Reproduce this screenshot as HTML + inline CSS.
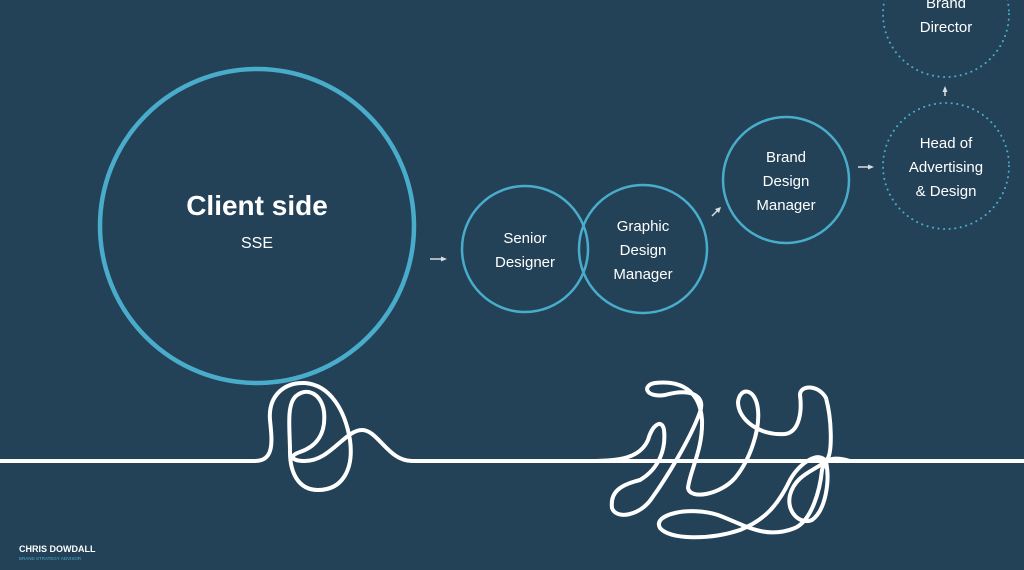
<!DOCTYPE html>
<html><head><meta charset="utf-8"><style>
html,body{margin:0;padding:0;background:#234257;}
svg{display:block}
text{font-family:"Liberation Sans",sans-serif;fill:#fff;}
</style></head><body>
<svg width="1024" height="570" viewBox="0 0 1024 570" xmlns="http://www.w3.org/2000/svg">
<rect width="1024" height="570" fill="#234257"/>
<g fill="none" stroke="#4aaccb">
<circle cx="257" cy="226" r="157" stroke-width="4.5"/>
<circle cx="525" cy="249" r="63" stroke-width="2.5"/>
<circle cx="643" cy="249" r="64" stroke-width="2.5"/>
<circle cx="786" cy="180" r="63" stroke-width="2.5"/>
<circle cx="946" cy="166" r="63" stroke-width="2" stroke-dasharray="0.1 5.5" stroke-linecap="round"/>
<circle cx="946" cy="14" r="63" stroke-width="2" stroke-dasharray="0.1 5.5" stroke-linecap="round"/>
</g>
<g stroke="#d8dde2" stroke-width="1.5" fill="#d8dde2">
<line x1="430" y1="259" x2="443" y2="259"/><path d="M447 259 L441 256.5 L441 261.5Z" stroke="none"/>
<line x1="712" y1="216" x2="718" y2="210"/><path d="M721 207 L715 209 L719 213Z" stroke="none"/>
<line x1="858" y1="167" x2="870" y2="167"/><path d="M874 167 L868 164.5 L868 169.5Z" stroke="none"/>
<line x1="945" y1="96" x2="945" y2="90"/><path d="M945 86 L942.5 92 L947.5 92Z" stroke="none"/>
</g>
<text x="257" y="215" text-anchor="middle" font-size="28" font-weight="bold">Client side</text>
<text x="257" y="248" text-anchor="middle" font-size="16">SSE</text>
<g font-size="15" text-anchor="middle">
<text x="525" y="243">Senior</text><text x="525" y="267">Designer</text>
<text x="643" y="231">Graphic</text><text x="643" y="255">Design</text><text x="643" y="279">Manager</text>
<text x="786" y="162">Brand</text><text x="786" y="186">Design</text><text x="786" y="210">Manager</text>
<text x="946" y="148">Head of</text><text x="946" y="172">Advertising</text><text x="946" y="196">&amp; Design</text>
<text x="946" y="8" fill="#a9b8c4">Brand</text><text x="946" y="32" fill="#a9b8c4">Director</text>
</g>
<g fill="none" stroke="#fff" stroke-width="4" stroke-linecap="round" stroke-linejoin="round">
<path d="M0 461 H255 C275 461 272 440 270 420 C268 395 285 382 305 383 C330 385 345 410 350 440 C354 470 342 490 318 490 C298 490 290 472 290 452 C290 430 286 405 296 396 C308 386 322 395 324 412 C326 432 318 446 300 452 C288 456 292 461 305 461 C330 461 345 430 362 430 C378 430 388 461 412 461 H1024"/>
<path d="M590 461 C620 461 640 458 648 440 C652 425 662 418 664 430 C666 448 660 468 640 480 C620 485 610 492 612 508 C616 520 640 516 652 498 C665 480 690 440 700 412 C706 395 690 388 665 395 C645 398 642 385 655 383 C680 380 700 390 702 420 C703 450 690 470 688 488 C690 500 720 495 735 478 C750 460 760 430 758 410 C756 388 740 386 738 402 C738 420 760 436 785 434 C800 432 802 410 800 395 C800 385 818 384 826 398 C832 420 832 450 828 458 C820 470 796 472 790 495 C786 512 800 525 812 520 C826 510 830 480 826 462 C820 450 800 462 790 480 C778 505 765 520 740 530 C710 540 670 540 660 528 C652 514 690 506 718 515 C745 525 765 540 795 528 C812 520 820 490 822 470 C826 455 840 458 850 461"/>
</g>
<text x="19" y="552" font-size="9" font-weight="bold">CHRIS DOWDALL</text>
<text x="19" y="560" font-size="4.5" fill="#4aaccb" style="fill:#4aaccb">BRAND STRATEGY ADVISOR</text>
</svg>
</body></html>
